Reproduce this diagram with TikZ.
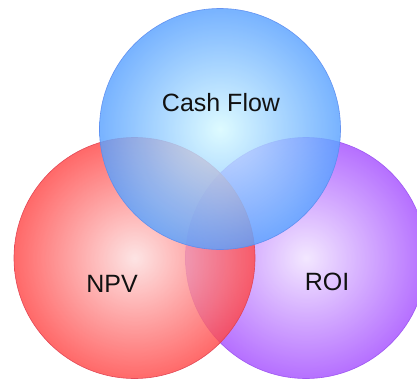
\documentclass[tikz,border=0pt]{standalone}
\usepackage{fontspec}
\setmainfont{Liberation Sans}
\usepackage{xcolor}
\usepackage{tikz}
\usetikzlibrary{calc,positioning}
\definecolor{label}{HTML}{111111}
\definecolor{blueinner}{HTML}{D6FAFF}
\definecolor{blueouter}{HTML}{5AA2FF}
\definecolor{blueline}{HTML}{5A8CF0}
\definecolor{redinner}{HTML}{FDDEDE}
\definecolor{redouter}{HTML}{FF4848}
\definecolor{redline}{HTML}{E04050}
\definecolor{purpleinner}{HTML}{F0E2FF}
\definecolor{purpleouter}{HTML}{A550FF}
\definecolor{purpleline}{HTML}{9A50F0}

\tikzset{
  setcircle/.style={circle, inner sep=0pt, minimum size=241pt, shading=radial, fill opacity=0.82, draw opacity=0.9, line width=0.6pt},
  setlabel/.style={text=label, font=\fontsize{25}{30}\selectfont, inner sep=0pt}
}

\begin{document}
\begin{tikzpicture}[x=1pt, y=-1pt]
  \useasboundingbox (0,0) rectangle (417,380);
  % the three sets, bottom to top
  \node[setcircle, inner color=purpleinner, outer color=purpleouter, draw=purpleline] (roi) at (306,258) {};
  \node[setcircle, inner color=redinner, outer color=redouter, draw=redline] (npv) at (134.5,258) {};
  \node[setcircle, inner color=blueinner, outer color=blueouter, draw=blueline] (cash) at (220,129) {};
  % labels
  \node[setlabel] (cashlabel) at ($(cash.center)+(1,-26)$) {Cash Flow};
  \node[setlabel] (npvlabel) at ($(npv.center)+(-22.5,26)$) {NPV};
  \node[setlabel] (roilabel) at ($(roi.center)+(21,24)$) {ROI};
\end{tikzpicture}
\end{document}
